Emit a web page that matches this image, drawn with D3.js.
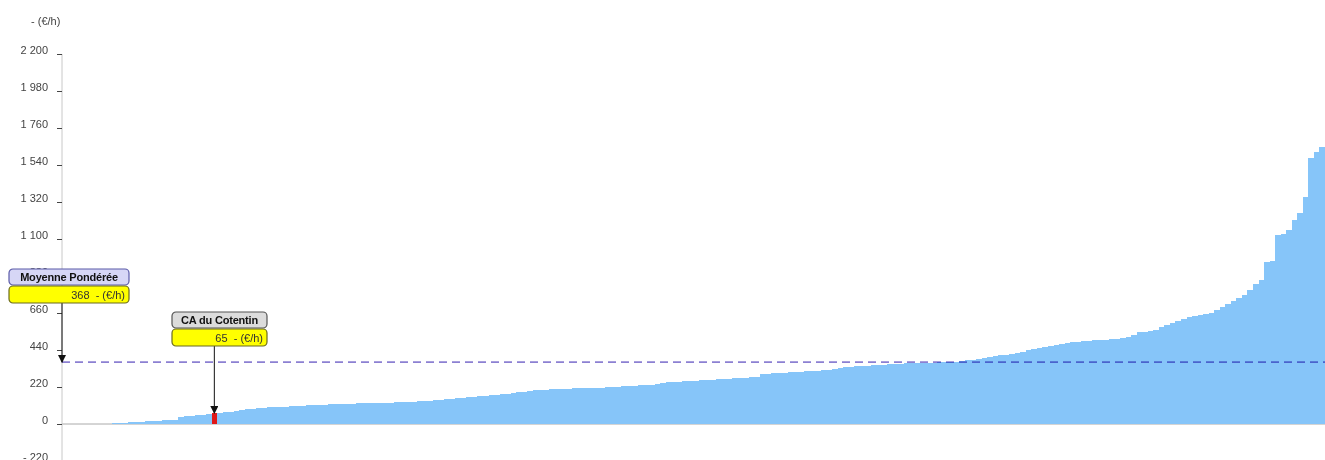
<!DOCTYPE html>
<html>
<head>
<meta charset="utf-8">
<script src="https://cdn.jsdelivr.net/npm/d3@7"></script>
<style>
  body { margin: 0; background: #fff; }
  svg { display: block; font-family: Arial, 'Liberation Sans', sans-serif; }
  .axis path { stroke: #c8c8c8; }
  .axis line { stroke: #444; }
  .axis text { fill: #444; font-size: 11px; }
</style>
</head>
<body>
<svg id="chart" width="1325" height="460"></svg>
<script>
// ------------------------------------------
//  Data (sorted values, €/h)
// ------------------------------------------
const unit = '- (€/h)'
const yTicks = [-220, 0, 220, 440, 660, 880, 1100, 1320, 1540, 1760, 1980, 2200]
const values = [
  0, 0, 0, 0, 0, 0, 1, 1, 2,
  3, 5, 7, 9, 11, 13, 15, 17, 19, 21, 23, 25,
  42, 45, 48, 52, 56, 60, 65,
  67, 70, 73, 77, 82, 87, 92, 95, 97,
  99, 100, 102, 104, 106, 108, 110, 111, 112, 113, 115, 116, 117, 118,
  120, 121, 122, 123, 124, 125, 126, 126, 127, 128,
  129, 131, 133, 135, 137, 139, 141, 143, 146, 149,
  152, 155, 158, 161, 164, 167, 170, 173, 176, 179,
  183, 188, 192, 196, 200, 202, 204, 206, 208, 210,
  211, 212, 213, 214, 215, 216, 217, 218, 220, 222,
  224, 226, 228, 230, 232, 234, 236, 245, 247, 249,
  251, 253, 255, 257, 259, 261, 263, 265, 267, 269,
  271, 273, 275, 277, 279, 298, 300, 302, 304, 306,
  308, 310, 312, 314, 316, 318, 320, 324, 328, 332,
  336, 339, 342, 344, 346, 348, 350, 352, 354, 356,
  358, 360, 361, 362, 363, 364, 365, 366, 367, 369,
  371, 374, 378, 383, 388, 393, 398, 403, 408, 413,
  418, 423, 430, 438, 446, 452, 458, 464, 470, 476,
  482, 486, 489, 492, 495, 497, 499, 502, 505, 508,
  511, 520, 530, 545, 550, 555, 560, 575, 590, 600,
  612, 624, 636, 642, 648, 654, 660, 675, 696, 712,
  730, 749, 770, 797, 830, 856, 963, 970, 1124, 1130,
  1153, 1213, 1255, 1350, 1581, 1617, 1647
]
const highlightIndex = 27
const highlightName = 'CA du Cotentin'
const averageName = 'Moyenne Pondérée'
const averageValue = 368

// ------------------------------------------
//  Chart
// ------------------------------------------
const svg = d3.select('#chart')
const left = 62, right = 1325

const x = d3.scaleBand().domain(d3.range(values.length)).range([left, right]).padding(0)
const y = d3.scaleLinear().domain([-220, 2200]).range([461, 54])

const fmt = v => {
  const s = d3.format(',')(Math.abs(v)).replace(/,/g, ' ')
  return v < 0 ? '- ' + s : s
}

svg.append('defs').append('marker')
  .attr('id', 'arrow')
  .attr('viewBox', '0 0 8 8')
  .attr('refX', 7).attr('refY', 4)
  .attr('markerWidth', 8).attr('markerHeight', 8)
  .attr('markerUnits', 'userSpaceOnUse')
  .attr('orient', 'auto')
  .append('path').attr('d', 'M0,0L8,4L0,8Z').attr('fill', '#111')

// unit title
svg.append('text')
  .attr('x', 31).attr('y', 25)
  .attr('font-size', 11).attr('fill', '#444')
  .text(unit)

// zero baseline
svg.append('line')
  .attr('x1', left).attr('x2', right)
  .attr('y1', y(0)).attr('y2', y(0))
  .attr('stroke', '#aaa')

// bars
svg.append('g').selectAll('rect')
  .data(values)
  .join('rect')
  .attr('x', (d, i) => x(i))
  .attr('width', x.bandwidth() + 0.6)
  .attr('y', d => y(d))
  .attr('height', d => y(0) - y(d))
  .attr('fill', (d, i) => i === highlightIndex ? '#e01818' : '#86c5f9')
  .attr('shape-rendering', 'crispEdges')

// y axis
const axis = svg.append('g')
  .attr('class', 'axis')
  .attr('transform', `translate(${left},0)`)
  .call(d3.axisLeft(y).tickValues(yTicks).tickSize(5).tickSizeOuter(0).tickPadding(9).tickFormat(fmt))
axis.selectAll('text').attr('dy', '-0.05em')
axis.select('.domain').attr('d', `M0,${y(2200)}V460`)

// weighted average line
svg.append('line')
  .attr('x1', left).attr('x2', right)
  .attr('y1', y(averageValue)).attr('y2', y(averageValue))
  .attr('stroke', '#8c80d2')
  .attr('stroke-width', 1.6)
  .attr('stroke-dasharray', '8,5')
  .style('mix-blend-mode', 'multiply')

// ------------------------------------------
//  Callouts
// ------------------------------------------
function callout(bx, by, w, name, value, titleFill, titleStroke, ax, ay0, ay1) {
  svg.append('line')
    .attr('x1', ax).attr('x2', ax)
    .attr('y1', ay0).attr('y2', ay1)
    .attr('stroke', '#111')
    .attr('marker-end', 'url(#arrow)')

  const g = svg.append('g').attr('transform', `translate(${bx},${by})`)
  g.append('rect')
    .attr('width', w).attr('height', 16).attr('rx', 4)
    .attr('fill', titleFill).attr('stroke', titleStroke).attr('stroke-width', 1.2)
  g.append('text')
    .attr('x', w / 2).attr('y', 12)
    .attr('text-anchor', 'middle')
    .attr('font-size', 11).attr('font-weight', 'bold').attr('fill', '#111')
    .attr('letter-spacing', '-0.2')
    .text(name)
  g.append('rect')
    .attr('y', 17).attr('width', w).attr('height', 17).attr('rx', 4)
    .attr('fill', '#ffff00').attr('stroke', '#6b6b20').attr('stroke-width', 1.2)
  g.append('text')
    .attr('x', w - 4).attr('y', 30)
    .attr('text-anchor', 'end')
    .attr('font-size', 11).attr('fill', '#333')
    .text(value + '  ' + unit)
    .attr('xml:space', 'preserve')
}

const hx = x(highlightIndex) + x.bandwidth() / 2
callout(9, 269, 120, averageName, averageValue, '#d6d6f6', '#5a5aa8', left, 303, y(averageValue))
callout(172, 312, 95, highlightName, values[highlightIndex], '#dcdcdc', '#555', hx, 346, y(values[highlightIndex]))
</script>
</body>
</html>
